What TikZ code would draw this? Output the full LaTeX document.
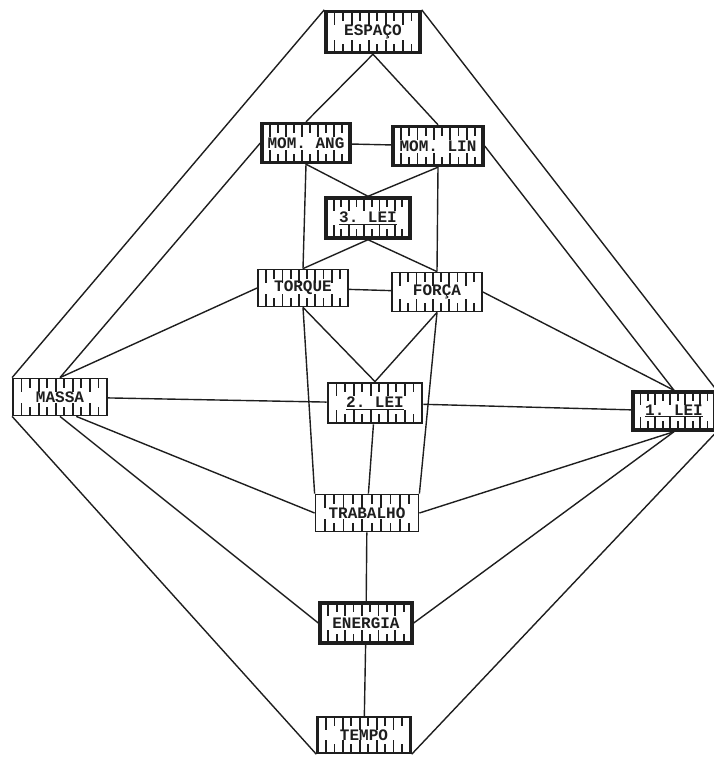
\documentclass[tikz,border=0pt]{standalone}
\usepackage{fontspec}
\setmonofont{Liberation Mono}
\usetikzlibrary{calc}
\definecolor{cink}{HTML}{1E1E1E}
\tikzset{
  every picture/.style={line width=1.3pt},
  box/.style={draw=cink, line width=#1, fill=white, minimum width=90pt, minimum height=39pt, inner sep=0pt,
    font=\ttfamily\bfseries\fontsize{16}{16}\selectfont, text=cink,
    path picture={
      \foreach \i in {1,...,10} {
        \pgfmathsetmacro\ticklen{mod(\i,2)==1 ? 13 : 9}
        \draw[cink, line width=1.8pt] ($(path picture bounding box.north west)!{\i/11}!(path picture bounding box.north east)$) -- ++(0,\ticklen);
        \draw[cink, line width=1.8pt] ($(path picture bounding box.south west)!{\i/11}!(path picture bounding box.south east)$) -- ++(0,-\ticklen);
      }}},
  box/.default=1.8pt,
  link/.style={draw=cink, line width=1.4pt},
}

\begin{document}
\begin{tikzpicture}[x=1pt, y=-1pt]
  \useasboundingbox (0,0) rectangle (714,758);
  \node[box=3.4pt, minimum width=94pt, minimum height=41pt] (espaco) at (373,32) {ESPAÇO};
  \node[box=3.4pt, minimum width=88pt] (momang) at (306,143) {MOM. ANG};
  \node[box=3.4pt] (momlin) at (438,146) {MOM. LIN};
  \node[box=3.4pt, minimum width=84pt, minimum height=40pt] (lei3) at (368,218) {\underline{3. LEI}};
  \node[box, minimum height=37pt] (torque) at (303,288) {TORQUE};
  \node[box] (forca) at (437,292) {FORÇA};
  \node[box, minimum width=94pt, minimum height=37pt] (massa) at (60,397) {MASSA};
  \node[box=2.8pt, minimum width=94pt, minimum height=40pt] (lei2) at (375,403) {\underline{2. LEI}};
  \node[box=3.4pt, minimum width=82pt, minimum height=38pt] (lei1) at (674,411) {\underline{1. LEI}};
  \node[box, minimum width=103pt, minimum height=37pt] (trabalho) at (367,513) {TRABALHO};
  \node[box=3.4pt, minimum width=92pt, minimum height=40pt] (energia) at (366,623) {ENERGIA};
  \node[box=2.4pt, minimum width=93pt, minimum height=36pt] (tempo) at (364,735) {TEMPO};
  \draw[link] (espaco.north west) -- (massa.north west);
  \draw[link] (espaco.north east) -- (lei1.north east);
  \draw[link] (espaco.south) -- (momang.north);
  \draw[link] (espaco.south) -- (momlin.north);
  \draw[link] (momang) -- (momlin);
  \draw[link] (momang.south) -- (lei3.north);
  \draw[link] (momlin.south) -- (lei3.north);
  \draw[link] (momang.south) -- (torque.north);
  \draw[link] (momlin.south) -- (forca.north);
  \draw[link] (lei3.south) -- (torque.north);
  \draw[link] (lei3.south) -- (forca.north);
  \draw[link] (torque) -- (forca);
  \draw[link] (momang.west) -- (massa.north);
  \draw[link] (torque.west) -- (massa.north);
  \draw[link] (momlin.east) -- (lei1.north);
  \draw[link] (forca.east) -- (lei1.north);
  \draw[link] (torque.south) -- (lei2.north);
  \draw[link] (forca.south) -- (lei2.north);
  \draw[link] (torque.south) -- (trabalho.north west);
  \draw[link] (forca.south) -- (trabalho.north east);
  \draw[link] (massa) -- (lei2);
  \draw[link] (lei2) -- (lei1);
  \draw[link] (lei2) -- (trabalho);
  \draw[link] (massa.-50) -- (trabalho.west);
  \draw[link] (massa.south) -- (energia.west);
  \draw[link] (massa.south west) -- (tempo.south west);
  \draw[link] (lei1.south) -- (trabalho.east);
  \draw[link] (lei1.south) -- (energia.east);
  \draw[link] (lei1.south east) -- (tempo.south east);
  \draw[link] (trabalho) -- (energia);
  \draw[link] (energia) -- (tempo);
\end{tikzpicture}
\end{document}
